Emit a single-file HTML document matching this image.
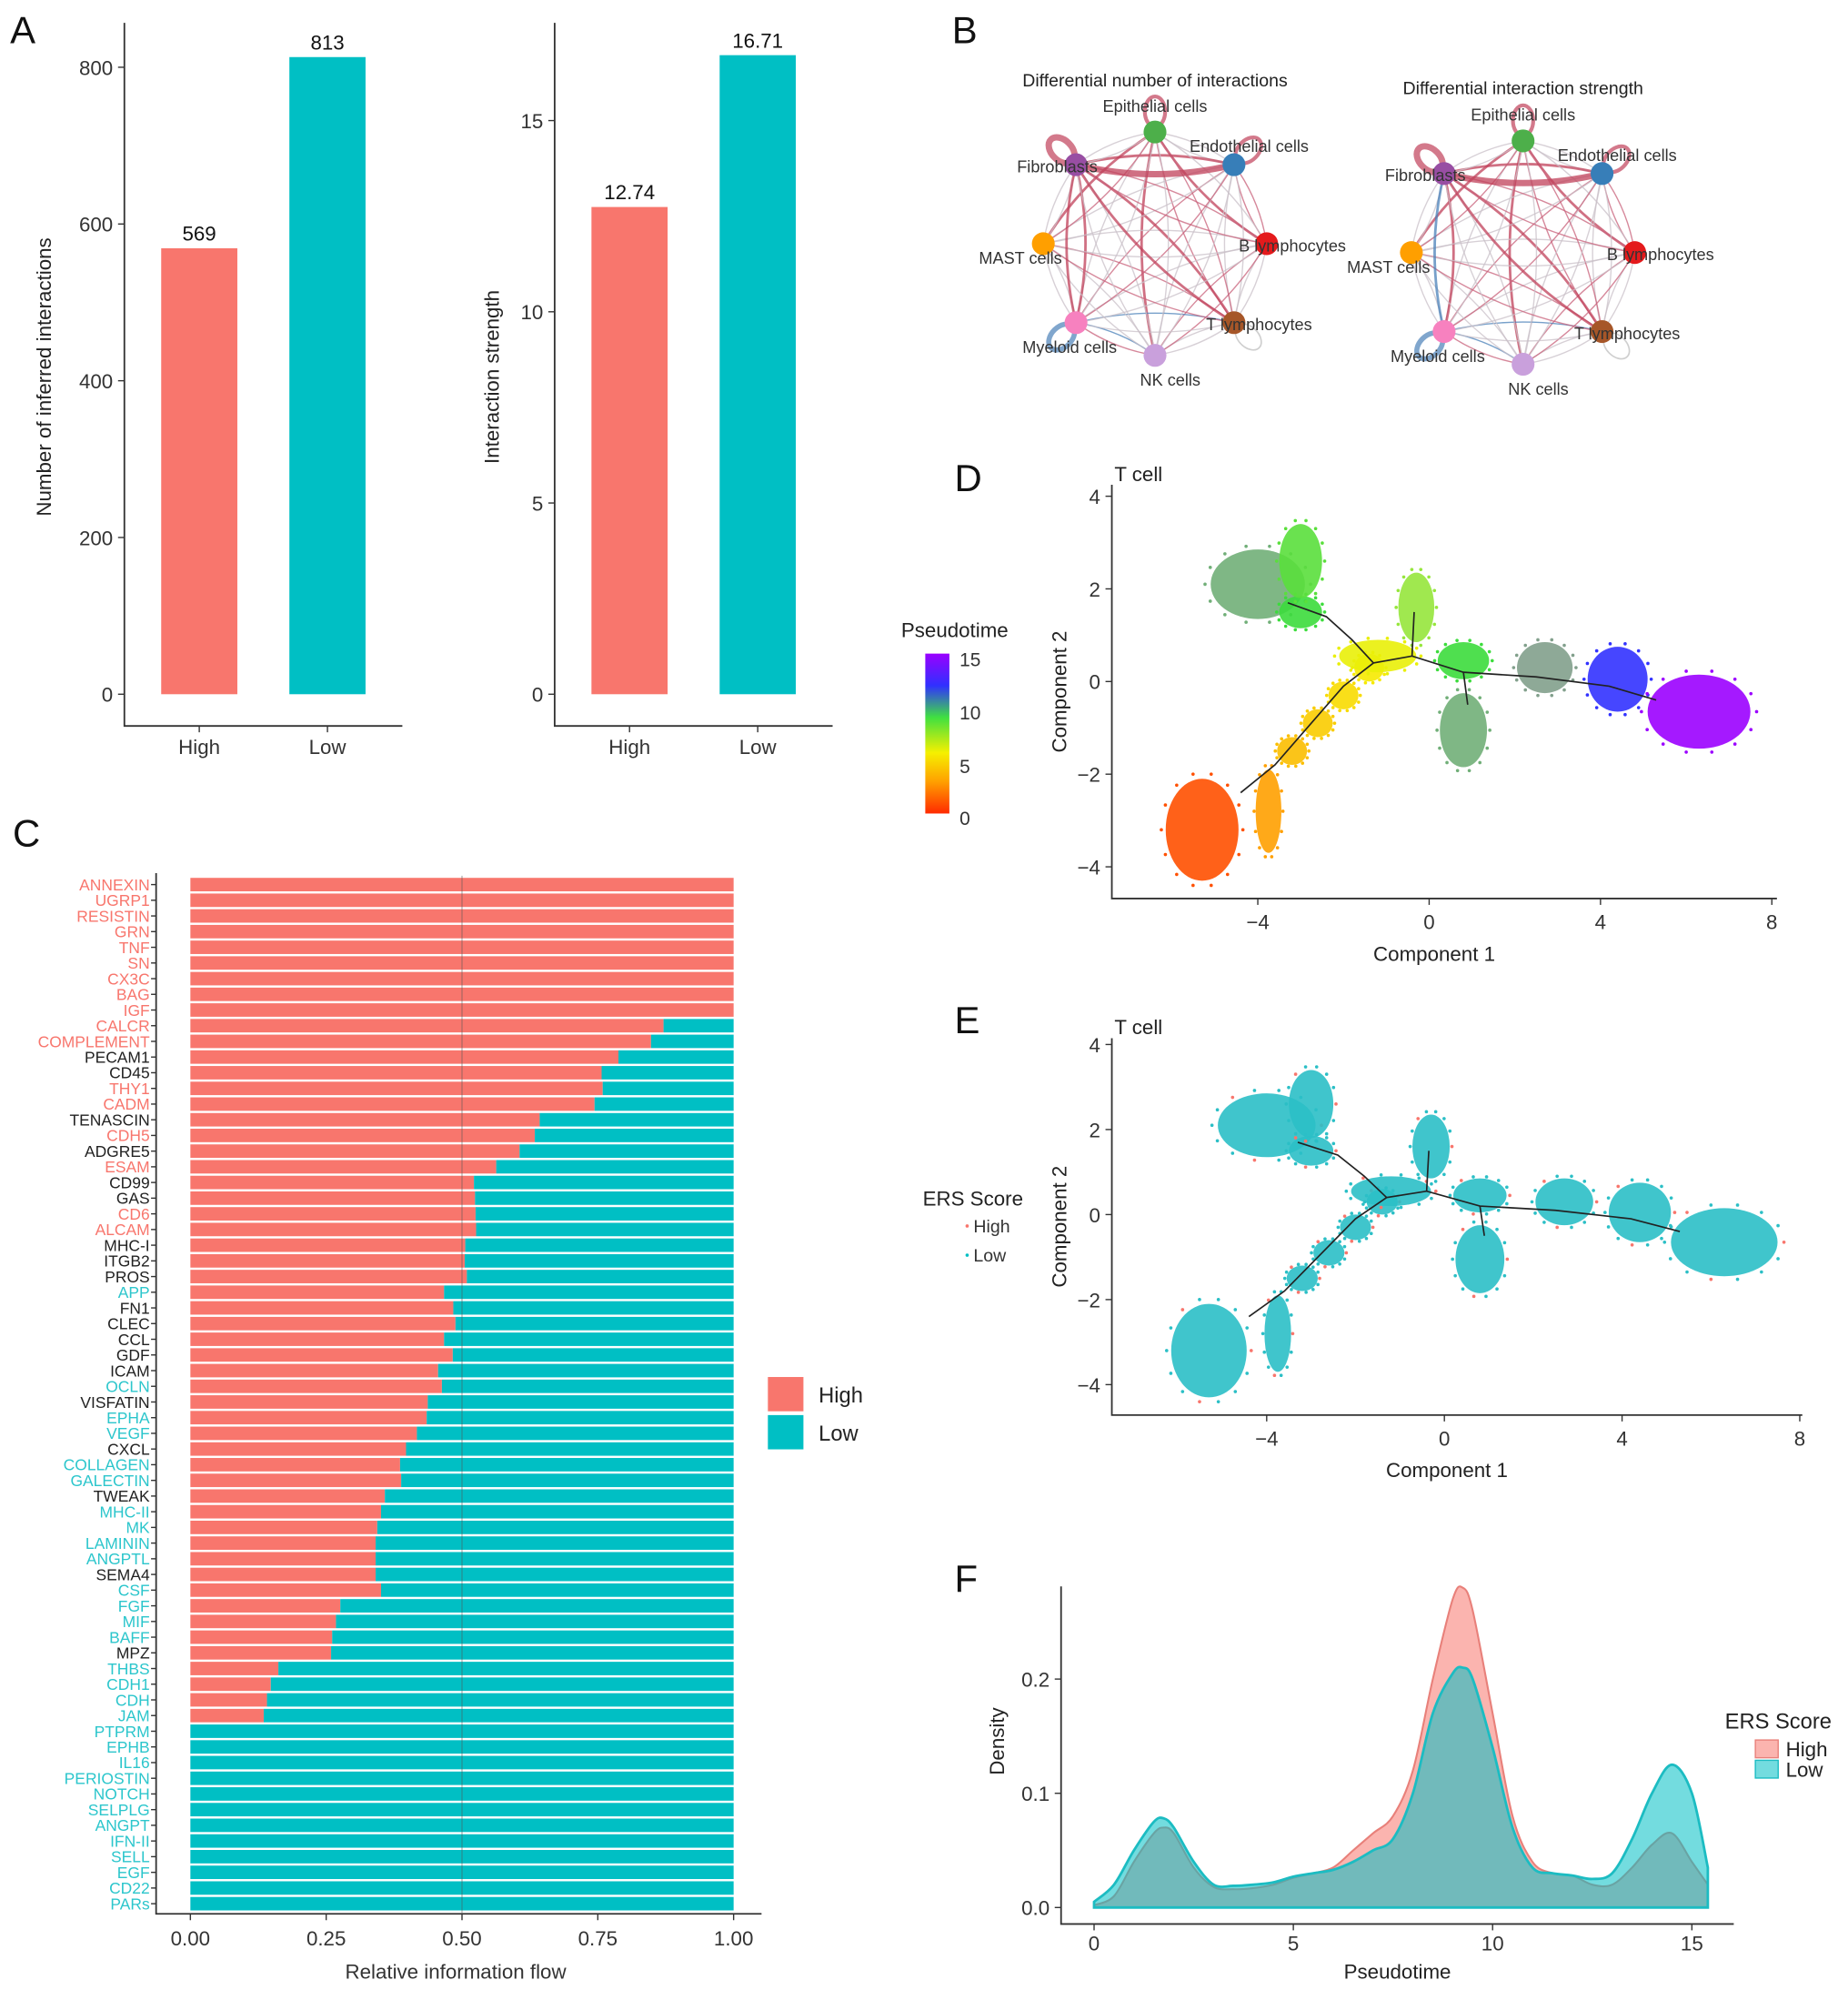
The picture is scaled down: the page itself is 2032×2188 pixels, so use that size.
<!DOCTYPE html>
<html><head><meta charset="utf-8">
<style>
html,body{margin:0;padding:0;background:#fff;}
svg{display:block;font-family:"Liberation Sans",Arial,sans-serif;}
</style></head>
<body>
<svg id="fig" width="2032" height="2188" viewBox="0 0 1456 1568" preserveAspectRatio="none" xmlns="http://www.w3.org/2000/svg">
<rect width="1456" height="1568" fill="#fff"/>
<defs>
<linearGradient id="ptgrad" x1="0" y1="1" x2="0" y2="0">
<stop offset="0" stop-color="#ff2a00"/><stop offset="0.2" stop-color="#ffa000"/><stop offset="0.38" stop-color="#f5f000"/><stop offset="0.6" stop-color="#40e040"/><stop offset="0.8" stop-color="#3030ff"/><stop offset="1" stop-color="#9a00ff"/>
</linearGradient>
</defs>
<g id="A"></g>
<g id="B"></g>
<g id="C"></g>
<g id="D"></g>
<g id="E"></g>
<g id="F"></g>
</svg>
<script>
// ---------- DATA ----------
const aCats = ["High","Low"];
const aCounts = [569, 813];
const aStrength = [12.74, 16.71];
const aCountTicks = [0,200,400,600,800];
const aStrTicks = [0,5,10,15];

const cellTypes = ["Epithelial cells","Endothelial cells","B lymphocytes","T lymphocytes","NK cells","Myeloid cells","MAST cells","Fibroblasts"];
const cellColors = ["#4daf4a","#377eb8","#e41a1c","#a65628","#c9a0dc","#f781bf","#ff9f00","#984ea3"];

const cPathways = ["ANNEXIN","UGRP1","RESISTIN","GRN","TNF","SN","CX3C","BAG","IGF","CALCR","COMPLEMENT","PECAM1","CD45","THY1","CADM","TENASCIN","CDH5","ADGRE5","ESAM","CD99","GAS","CD6","ALCAM","MHC-I","ITGB2","PROS","APP","FN1","CLEC","CCL","GDF","ICAM","OCLN","VISFATIN","EPHA","VEGF","CXCL","COLLAGEN","GALECTIN","TWEAK","MHC-II","MK","LAMININ","ANGPTL","SEMA4","CSF","FGF","MIF","BAFF","MPZ","THBS","CDH1","CDH","JAM","PTPRM","EPHB","IL16","PERIOSTIN","NOTCH","SELPLG","ANGPT","IFN-II","SELL","EGF","CD22","PARs"];
const cHigh = [1,1,1,1,1,1,1,1,1,0.871,0.848,0.788,0.757,0.759,0.744,0.643,0.634,0.606,0.563,0.522,0.524,0.525,0.526,0.506,0.505,0.509,0.467,0.484,0.488,0.467,0.483,0.456,0.463,0.437,0.435,0.417,0.397,0.386,0.388,0.358,0.351,0.344,0.341,0.341,0.341,0.351,0.276,0.268,0.261,0.259,0.162,0.148,0.141,0.135,0,0,0,0,0,0,0,0,0,0,0,0];
const cLabelGroup = ["h","h","h","h","h","h","h","h","h","h","h","n","n","h","h","n","h","n","h","n","n","h","h","n","n","n","l","n","n","n","n","n","l","n","l","l","n","l","l","n","l","l","l","l","n","l","l","l","l","n","l","l","l","l","l","l","l","l","l","l","l","l","l","l","l","l"];
const cTicks = [0,0.25,0.5,0.75,1];

// trajectory clusters: component1, component2, half-width, half-height, pseudotime
const dBlobX = [-5.3,-3.75,-3.2,-2.6,-2.0,-1.4,-1.2,-4.0,-3.0,-3.0,-0.3,0.8,2.7,4.4,6.3,0.8];
const dBlobY = [-3.2,-2.8,-1.5,-0.9,-0.3,0.3,0.55,2.1,1.5,2.6,1.6,0.45,0.3,0.05,-0.65,-1.05];
const dBlobW = [0.85,0.3,0.35,0.35,0.35,0.35,0.9,1.1,0.5,0.5,0.42,0.6,0.65,0.7,1.2,0.55];
const dBlobH = [1.1,0.9,0.3,0.3,0.3,0.3,0.35,0.75,0.35,0.8,0.75,0.4,0.55,0.7,0.8,0.8];
const dBlobT = [1.0,3.0,4.0,4.5,5.0,5.5,6.0,11.0,9.5,9.0,8.0,9.5,11.5,13.0,15.0,11.0];
const trajX = [-4.4,-3.6,-2.0,-1.3,-0.4,0.8,2.5,4.2,5.3];
const trajY = [-2.4,-1.8,-0.1,0.4,0.55,0.2,0.1,-0.1,-0.4];
const trajBrX = [-3.3,-2.4,-1.8];
const trajBrY = [1.7,1.4,0.9];

const fX = [0,0.5,1,1.5,1.75,2,2.5,3,3.5,4,4.5,5,5.5,6,6.5,7,7.5,8,8.5,9,9.25,9.5,10,10.5,11,11.5,12,12.5,13,13.5,14,14.5,15,15.4];
const fHigh = [0.002,0.01,0.04,0.065,0.07,0.065,0.035,0.018,0.016,0.017,0.02,0.026,0.03,0.035,0.05,0.065,0.08,0.12,0.2,0.27,0.28,0.26,0.17,0.08,0.04,0.03,0.028,0.02,0.02,0.035,0.055,0.065,0.04,0.02];
const fLow = [0.005,0.02,0.05,0.075,0.078,0.07,0.04,0.02,0.019,0.02,0.022,0.027,0.03,0.033,0.04,0.05,0.06,0.1,0.17,0.205,0.21,0.2,0.14,0.07,0.035,0.03,0.028,0.025,0.03,0.06,0.1,0.125,0.1,0.035];
const fXTicks = [0,5,10,15];
const fYTicks = [0,0.1,0.2];

// ---------- HELPERS ----------
const NS="http://www.w3.org/2000/svg";
function mk(parent,tag,attrs,text){const e=document.createElementNS(NS,tag);for(const k in attrs)e.setAttribute(k,attrs[k]);if(text!==undefined)e.textContent=text;parent.appendChild(e);return e;}
const RED="#F8766D", CYAN="#00BFC4";

const letters=[["A",8,34],["B",750,34],["C",10,667],["D",752,387],["E",752,814],["F",752,1254]];
letters.forEach(l=>{const t=mk(document.getElementById(l[0]),"text",{x:l[1],y:l[2],"font-size":30,fill:"#111"},l[0]);

});

// ---------- PANEL A ----------
function barPanel(g,axX,vals,ticks,maxV,yTitle,bars,valText,nm){
  const y0=547, yTop = nm==="count"?53:95, tv = nm==="count"?800:15;
  const sy=v=>y0-(v/tv)*(y0-yTop);
  const ax=mk(g,"path",{d:`M${axX},18 V572 H${axX+219}`,stroke:"#333","stroke-width":1.3,fill:"none"});
  
  
  ticks.forEach(t=>{mk(g,"line",{x1:axX-5,x2:axX,y1:sy(t),y2:sy(t),stroke:"#333"});
    const tl=mk(g,"text",{x:axX-9,y:sy(t)+6,"text-anchor":"end","font-size":16,fill:"#333"},String(t));
    
    });
  vals.forEach((v,i)=>{const x=axX+29+i*101;
    const r=mk(g,"rect",{x:x,y:sy(v),width:60,height:y0-sy(v),fill:i?CYAN:RED});
    
    
    const vt=mk(g,"text",{x:x+30,y:sy(v)-6,"text-anchor":"middle","font-size":16,fill:"#111"},valText[i]);
    
    
    mk(g,"line",{x1:x+30,x2:x+30,y1:572,y2:577,stroke:"#333"});
    const ct=mk(g,"text",{x:x+30,y:594,"text-anchor":"middle","font-size":16,fill:"#333"},aCats[i]);
    
    });
  const tx = nm==="count"?40:393, ty = 297;
  const yt=mk(g,"text",{x:tx,y:ty,transform:`rotate(-90 ${tx} ${ty})`,"text-anchor":"middle","font-size":16,fill:"#222"},yTitle);
  
  
}
const gA=document.getElementById("A");
barPanel(gA,98,aCounts,aCountTicks,800,"Number of inferred interactions",null,aCounts.map(String),"count");
barPanel(gA,437,aStrength,aStrTicks,15,"Interaction strength",null,aStrength.map(v=>v.toFixed(2)),"strength");

// ---------- PANEL B ----------
const gB=document.getElementById("B");
function network(cx,cy,title,tx,ty,nm){
  const g=mk(gB,"g",{});
  
  
  const tt=mk(g,"text",{x:tx,y:ty,"text-anchor":"middle","font-size":14,fill:"#222"},title);
  
  
  const R=88;
  const pos=cellTypes.map((c,i)=>{const a=-Math.PI/2+i*Math.PI/4;return [cx+R*Math.cos(a),cy+R*Math.sin(a)];});
  for(let i=0;i<8;i++)for(let j=0;j<8;j++){if(i===j)continue;
    const p=pos[i],q=pos[j];const mx=(p[0]+q[0])/2,my=(p[1]+q[1])/2;
    const dx=q[0]-p[0],dy=q[1]-p[1];const off=0.12;
    const strong=(i===7||j===7||i===0)&&((i+j)%2===0);
    const blue=(j===5&&(i===3||i===4))||(i===7&&j===5&&nm==="strength");
    const col=blue?"#4a80b8":(strong?"#c0405a":((i+j)%3===0?"#c8607a":"#c9c0c8"));
    const w=strong?( (i===7&&j===0)||(i===7&&j===1)||(nm==="strength"&&i===7&&j===2)?5:2):1;
    mk(g,"path",{d:`M${p[0]},${p[1]} Q${mx-dy*off},${my+dx*off} ${q[0]},${q[1]}`,stroke:col,"stroke-width":w,fill:"none","stroke-opacity":0.75});}
  [[7,"#c0405a",5],[0,"#c0405a",3],[1,"#c0405a",3],[5,"#4a80b8",4],[3,"#bbb",1.2]].forEach(s=>{const p=pos[s[0]];
    const a=-Math.PI/2+s[0]*Math.PI/4;const lx=p[0]+16*Math.cos(a),ly=p[1]+16*Math.sin(a);
    mk(g,"ellipse",{cx:lx,cy:ly,rx:8,ry:12,transform:`rotate(${a*180/Math.PI+90} ${lx} ${ly})`,stroke:s[1],"stroke-width":s[2],fill:"none","stroke-opacity":0.7});});
  const lab=[[0,0,-16,"middle"],[1,-35,-10,"start"],[2,-22,6,"start"],[3,-22,6,"start"],[4,12,24,"middle"],[5,-5,24,"middle"],[6,-18,16,"middle"],[7,17,6,"end"]];
  pos.forEach((p,i)=>{const n=mk(g,"circle",{cx:p[0],cy:p[1],r:9,fill:cellColors[i]});
    
    
    const l=lab[i];const t=mk(g,"text",{x:p[0]+l[1],y:p[1]+l[2],"text-anchor":l[3],"font-size":13,fill:"#333"},cellTypes[i]);
    
    });
}
network(910,192,"Differential number of interactions",910,68,"count");
network(1200,199,"Differential interaction strength",1200,74,"strength");

// ---------- PANEL C ----------
const gC=document.getElementById("C");
const cx0=150,cx1=578,cyTop=697,cStep=(1500-697)/65;
const sxC=v=>cx0+v*(cx1-cx0);
const axC=mk(gC,"path",{d:`M123,688 V1508 H600`,stroke:"#333","stroke-width":1.3,fill:"none"});


cPathways.forEach((p,i)=>{const y=cyTop+i*cStep;const h=cHigh[i];
  const r1=mk(gC,"rect",{x:sxC(0),y:y-5.3,width:sxC(h)-sxC(0),height:10.6,fill:RED});
  
  
  const r2=mk(gC,"rect",{x:sxC(h),y:y-5.3,width:sxC(1)-sxC(h),height:10.6,fill:CYAN});
  
  
  mk(gC,"line",{x1:119,x2:123,y1:y,y2:y,stroke:"#333"});
  const g=cLabelGroup[i];
  const t=mk(gC,"text",{x:118,y:y+4.5,"text-anchor":"end","font-size":12.5,fill:g==="h"?RED:(g==="l"?"#2cc6cc":"#222")},p);
  
  });
mk(gC,"line",{x1:sxC(0.5),x2:sxC(0.5),y1:690,y2:1508,stroke:"#555","stroke-width":0.6,"stroke-opacity":0.7});
cTicks.forEach(t=>{mk(gC,"line",{x1:sxC(t),x2:sxC(t),y1:1508,y2:1513,stroke:"#333"});
  const l=mk(gC,"text",{x:sxC(t),y:1533,"text-anchor":"middle","font-size":16,fill:"#333"},t.toFixed(2));
  
  });
const cxt=mk(gC,"text",{x:359,y:1559,"text-anchor":"middle","font-size":16,fill:"#333"},"Relative information flow");


[[RED,1085,"High"],[CYAN,1115,"Low"]].forEach(e=>{const r=mk(gC,"rect",{x:605,y:e[1],width:28,height:27,fill:e[0]});
  
  
  const t=mk(gC,"text",{x:645,y:e[1]+20,"font-size":17,fill:"#222"},e[2]);
  
  });

// ---------- PANELS D & E ----------
function ptColor(t){const s=[[0,[255,40,0]],[3,[255,160,0]],[5.7,[245,240,0]],[8,[150,230,60]],[9.5,[60,220,60]],[11.5,[130,160,140]],[13,[50,50,255]],[15,[155,0,255]]];
  for(let i=0;i<s.length-1;i++){if(t<=s[i+1][0]){const f=(t-s[i][0])/(s[i+1][0]-s[i][0]);const c=s[i][1].map((v,k)=>Math.round(v+f*(s[i+1][1][k]-v)));return `rgb(${c})`;}}return "rgb(155,0,255)";}
function trajPanel(id,axL,axB,x0px,xUnit,y0px,yUnit,yTop,xRight,mode){
  const g=document.getElementById(id);
  const sx=v=>x0px+v*xUnit, sy=v=>y0px-v*yUnit;
  const ax=mk(g,"path",{d:`M${axL},${yTop} V${axB} H${xRight}`,stroke:"#333","stroke-width":1.3,fill:"none"});
  
  
  dBlobX.forEach((bx,i)=>{
    const e=mk(g,"ellipse",{cx:sx(bx),cy:sy(dBlobY[i]),rx:dBlobW[i]*xUnit,ry:dBlobH[i]*yUnit,fill:mode==="pt"?ptColor(dBlobT[i]):"#2bbfc6","fill-opacity":0.9});
    
    
    for(let k=0;k<14;k++){const a=k*Math.PI/7;mk(g,"circle",{cx:sx(bx+dBlobW[i]*1.12*Math.cos(a)),cy:sy(dBlobY[i]+dBlobH[i]*1.12*Math.sin(a)),r:1.3,fill:mode==="pt"?ptColor(dBlobT[i]):(k%5===0?RED:"#2bbfc6")});}
  });
  let d="M"+trajX.map((x,i)=>sx(x)+","+sy(trajY[i])).join(" L");
  const tl=mk(g,"path",{d:d,stroke:"#222","stroke-width":1.2,fill:"none"});
  
  
  mk(g,"path",{d:"M"+trajBrX.map((x,i)=>sx(x)+","+sy(trajBrY[i])).join(" L")+` L${sx(-1.3)},${sy(0.4)} M${sx(-0.35)},${sy(1.5)} L${sx(-0.4)},${sy(0.55)} M${sx(0.9)},${sy(-0.5)} L${sx(0.8)},${sy(0.2)}`,stroke:"#222","stroke-width":1.2,fill:"none"});
  [-4,0,4,8].forEach(t=>{mk(g,"line",{x1:sx(t),x2:sx(t),y1:axB,y2:axB+5,stroke:"#333"});
    const l=mk(g,"text",{x:sx(t),y:axB+24,"text-anchor":"middle","font-size":16,fill:"#333"},t<0?"\u2212"+(-t):String(t));
    
    });
  [-4,-2,0,2,4].forEach(t=>{mk(g,"line",{x1:axL-5,x2:axL,y1:sy(t),y2:sy(t),stroke:"#333"});
    const l=mk(g,"text",{x:axL-9,y:sy(t)+6,"text-anchor":"end","font-size":16,fill:"#333"},t<0?"\u2212"+(-t):String(t));
    
    });
  const xt=mk(g,"text",{x:(axL+xRight)/2-8,y:axB+49,"text-anchor":"middle","font-size":16,fill:"#222"},"Component 1");
  
  
  const yc=(yTop+axB)/2;
  const yt=mk(g,"text",{x:840,y:yc,transform:`rotate(-90 840 ${yc})`,"text-anchor":"middle","font-size":16,fill:"#222"},"Component 2");
  
  
  const tc=mk(g,"text",{x:878,y:yTop-3,"font-size":16,fill:"#222"},"T cell");
  
  
}
trajPanel("D",876,708,1126,33.75,537,36.5,382,1400,"pt");
trajPanel("E",876,1115,1138,35,957,33.5,818,1420,"ers");
const gD=document.getElementById("D");
const lt=mk(gD,"text",{x:710,y:502,"font-size":16,fill:"#222"},"Pseudotime");


const cb=mk(gD,"rect",{x:729,y:515,width:19,height:126,fill:"url(#ptgrad)"});


[[15,521],[10,563],[5,605],[0,646]].forEach(t=>{const l=mk(gD,"text",{x:756,y:t[1]+4,"font-size":15,fill:"#333"},String(t[0]));
  
  });
const gE=document.getElementById("E");
const et=mk(gE,"text",{x:727,y:950,"font-size":16,fill:"#222"},"ERS Score");


[[RED,970,"High"],[CYAN,993,"Low"]].forEach(e=>{mk(gE,"circle",{cx:762,cy:e[1]-4,r:1.3,fill:e[0]});
  const t=mk(gE,"text",{x:767,y:e[1]+1,"font-size":14,fill:"#333"},e[2]);
  
  });

// ---------- PANEL F ----------
const gF=document.getElementById("F");
const sxF=v=>862+v*31.4, syF=v=>1503-v*900;
function smoothPath(xs,ys){const P=xs.map((x,i)=>[sxF(x),syF(ys[i])]);let d=`M${P[0][0]},${syF(0)} L${P[0][0]},${P[0][1]}`;
  for(let i=0;i<P.length-1;i++){const p0=P[Math.max(0,i-1)],p1=P[i],p2=P[i+1],p3=P[Math.min(P.length-1,i+2)];
    d+=` C${p1[0]+(p2[0]-p0[0])/6},${p1[1]+(p2[1]-p0[1])/6} ${p2[0]-(p3[0]-p1[0])/6},${p2[1]-(p3[1]-p1[1])/6} ${p2[0]},${p2[1]}`;}
  return d+` L${P[P.length-1][0]},${syF(0)} Z`;}
const hp=mk(gF,"path",{d:smoothPath(fX,fHigh),fill:"rgba(248,118,109,0.55)",stroke:"#e8807a","stroke-width":1.5});


const lp=mk(gF,"path",{d:smoothPath(fX,fLow),fill:"rgba(0,191,196,0.55)",stroke:"#1cbcc2","stroke-width":2});


const axF=mk(gF,"path",{d:`M836,1250 V1516 H1366`,stroke:"#333","stroke-width":1.3,fill:"none"});


fXTicks.forEach(t=>{mk(gF,"line",{x1:sxF(t),x2:sxF(t),y1:1516,y2:1521,stroke:"#333"});
  const l=mk(gF,"text",{x:sxF(t),y:1537,"text-anchor":"middle","font-size":16,fill:"#333"},String(t));
  
  });
fYTicks.forEach(t=>{mk(gF,"line",{x1:831,x2:836,y1:syF(t),y2:syF(t),stroke:"#333"});
  const l=mk(gF,"text",{x:827,y:syF(t)+6,"text-anchor":"end","font-size":16,fill:"#333"},t.toFixed(1));
  
  });
const fxt=mk(gF,"text",{x:1101,y:1559,"text-anchor":"middle","font-size":16,fill:"#222"},"Pseudotime");


const fyt=mk(gF,"text",{x:791,y:1372,transform:"rotate(-90 791 1372)","text-anchor":"middle","font-size":16,fill:"#222"},"Density");


const flt=mk(gF,"text",{x:1359,y:1362,"font-size":17,fill:"#222"},"ERS Score");


[["rgba(248,118,109,0.55)","#e8807a",1371,"High"],["rgba(0,191,196,0.55)","#1cbcc2",1387,"Low"]].forEach(e=>{
  const r=mk(gF,"rect",{x:1383,y:e[2],width:18,height:14,fill:e[0],stroke:e[1]});
  
  
  const t=mk(gF,"text",{x:1407,y:e[2]+13,"font-size":16,fill:"#222"},e[3]);
  
  });
</script>
</body></html>
